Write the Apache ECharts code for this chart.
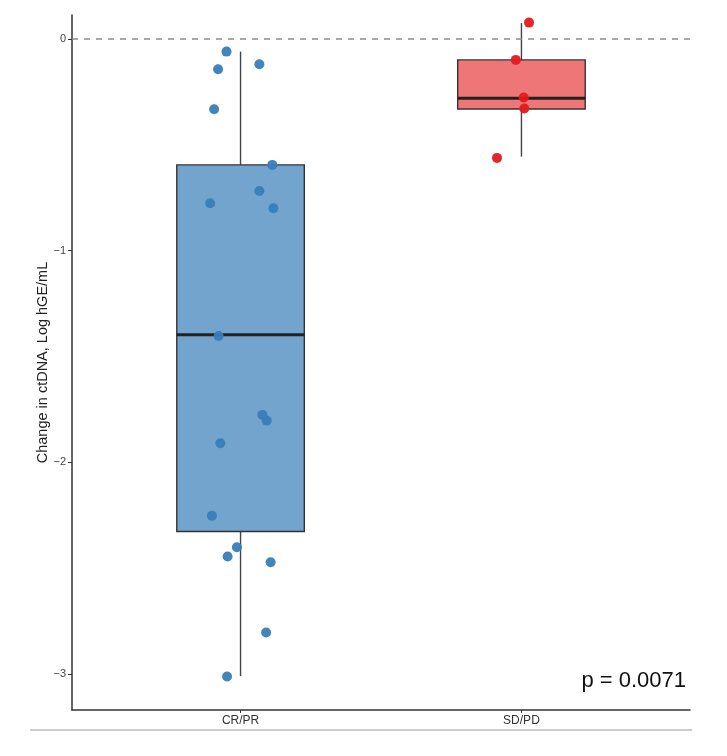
<!DOCTYPE html>
<html>
<head>
<meta charset="utf-8">
<script src="https://cdn.jsdelivr.net/npm/echarts@6/dist/echarts.min.js"></script>
<style>
  html, body { margin: 0; padding: 0; background: #fff; }
  #chart { width: 727px; height: 756px; }
</style>
</head>
<body>
<div id="chart"></div>
<script>
// categories sit at x = 1 and x = 2 on a value axis
const categories = ['CR/PR', 'SD/PD'];
const yTicks = [0, -1, -2, -3];

// box stats: [low whisker, q1, median, q3, high whisker]
const crprBox = [-3.01, -2.327, -1.398, -0.595, -0.06];
const sdpdBox = [-0.556, -0.331, -0.28, -0.099, 0.075];

// point values and their jitter (category units)
const crprValues = [-0.06, -0.143, -0.12, -0.332, -0.595, -0.718, -0.776, -0.80,
  -1.403, -1.776, -1.803, -1.91, -2.253, -2.401, -2.445, -2.472, -2.804, -3.012];
const crprJitter = [-0.05, -0.08, 0.067, -0.094, 0.113, 0.067, -0.108, 0.117,
  -0.078, 0.078, 0.093, -0.072, -0.102, -0.013, -0.046, 0.107, 0.091, -0.048];
const sdpdValues = [0.077, -0.099, -0.277, -0.329, -0.562];
const sdpdJitter = [0.027, -0.02, 0.008, 0.01, -0.087];

const pText = 'p = 0.0071';

const blue = '#377EB8', red = '#E41A1C';

function boxSeries(pos, stats, fill) {
  return {
    type: 'custom',
    data: [[pos].concat(stats)],
    z: 2,
    renderItem: function (params, api) {
      const x = api.value(0);
      const hw = 0.227;
      const lo = api.coord([x, api.value(1)]);
      const q1 = api.coord([x, api.value(2)]);
      const md = api.coord([x, api.value(3)]);
      const q3 = api.coord([x, api.value(4)]);
      const hi = api.coord([x, api.value(5)]);
      const l = api.coord([x - hw, 0])[0];
      const r = api.coord([x + hw, 0])[0];
      const ln = { stroke: '#444', lineWidth: 1.4 };
      return {
        type: 'group',
        children: [
          { type: 'line', shape: { x1: lo[0], y1: lo[1], x2: q1[0], y2: q1[1] }, style: ln },
          { type: 'line', shape: { x1: q3[0], y1: q3[1], x2: hi[0], y2: hi[1] }, style: ln },
          { type: 'rect', shape: { x: l, y: q3[1], width: r - l, height: q1[1] - q3[1] },
            style: { fill: fill, stroke: '#333', lineWidth: 1.4 } },
          { type: 'line', shape: { x1: l, y1: md[1], x2: r, y2: md[1] },
            style: { stroke: '#222', lineWidth: 3 } }
        ]
      };
    }
  };
}

function pts(pos, vals, jit) {
  return vals.map((v, i) => [pos + jit[i], v]);
}

const chart = echarts.init(document.getElementById('chart'));
chart.setOption({
  animation: false,
  backgroundColor: '#fff',
  textStyle: { fontFamily: 'Liberation Sans, Arial, sans-serif' },
  grid: { left: 72, right: 37, top: 15, bottom: 46 },
  xAxis: {
    type: 'value', min: 0.4, max: 2.6,
    splitLine: { show: false },
    axisLine: { onZero: false, lineStyle: { color: '#333', width: 1.5 } },
    axisTick: { customValues: [1, 2], length: 3, lineStyle: { color: '#333' } },
    axisLabel: {
      customValues: [1, 2], color: '#333', fontSize: 12, margin: 5,
      formatter: v => categories[Math.round(v) - 1]
    }
  },
  yAxis: {
    type: 'value', min: -3.17, max: 0.113,
    name: 'Change in ctDNA, Log hGE/mL', nameLocation: 'middle', nameGap: 22,
    nameMoveOverlap: false,
    nameTextStyle: { color: '#222', fontSize: 14.5 },
    splitLine: { show: false },
    axisLine: { show: true, onZero: false, lineStyle: { color: '#333', width: 1.5 } },
    axisTick: { show: true, customValues: yTicks, length: 4, lineStyle: { color: '#333' } },
    axisLabel: { customValues: yTicks, color: '#444', fontSize: 11, margin: 6,
      formatter: v => String(v).replace('-', '\u2212') }
  },
  series: [
    {
      type: 'line', data: [], silent: true,
      markLine: {
        silent: true, symbol: 'none', label: { show: false },
        lineStyle: { color: '#8c8c8c', type: [6, 6], width: 1.6 },
        data: [{ yAxis: 0 }]
      }
    },
    boxSeries(1, crprBox, 'rgba(55,126,184,0.7)'),
    boxSeries(2, sdpdBox, 'rgba(228,26,28,0.6)'),
    {
      type: 'scatter', z: 3, symbolSize: 10,
      itemStyle: { color: blue, opacity: 0.95 },
      data: pts(1, crprValues, crprJitter)
    },
    {
      type: 'scatter', z: 3, symbolSize: 10,
      itemStyle: { color: red, opacity: 0.95 },
      data: pts(2, sdpdValues, sdpdJitter)
    }
  ],
  graphic: [
    { type: 'text', right: 41, top: 670,
      style: { text: pText, fontSize: 22, fill: '#111', fontFamily: 'Liberation Sans, Arial, sans-serif' } },
    { type: 'line', shape: { x1: 30, y1: 730, x2: 692, y2: 730 },
      style: { stroke: '#999', lineWidth: 1 } }
  ]
});
</script>
</body>
</html>
